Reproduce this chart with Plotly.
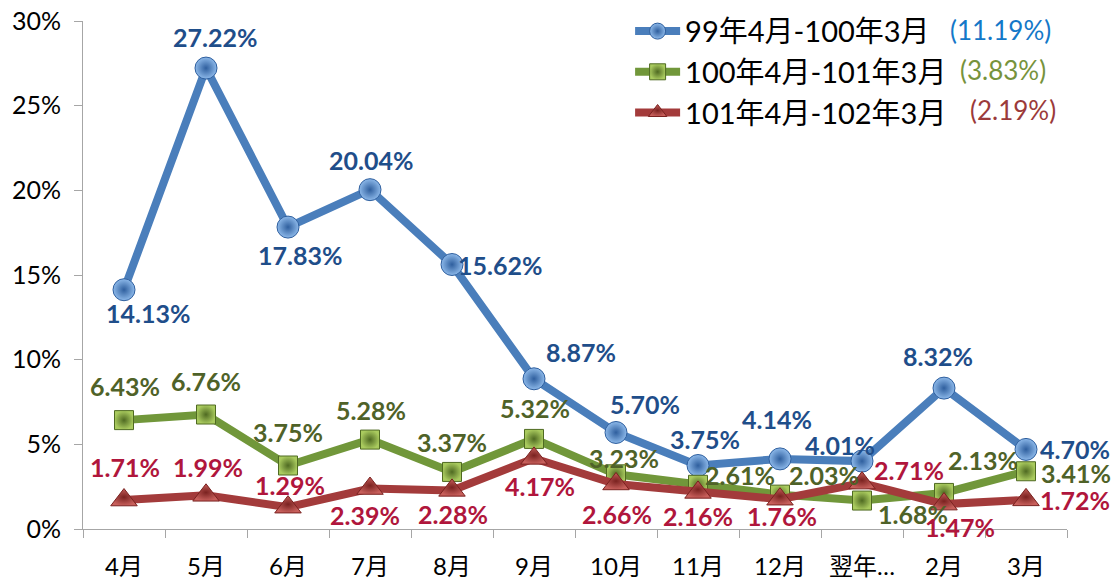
import plotly.graph_objects as go

categories = ["4月", "5月", "6月", "7月", "8月", "9月", "10月", "11月", "12月", "翌年…", "2月", "3月"]
series_names = ["99年4月-100年3月", "100年4月-101年3月", "101年4月-102年3月"]
series_avg = ["(11.19%)", "(3.83%)", "(2.19%)"]
s1 = [14.13, 27.22, 17.83, 20.04, 15.62, 8.87, 5.70, 3.75, 4.14, 4.01, 8.32, 4.70]
s2 = [6.43, 6.76, 3.75, 5.28, 3.37, 5.32, 3.23, 2.61, 2.03, 1.68, 2.13, 3.41]
s3 = [1.71, 1.99, 1.29, 2.39, 2.28, 4.17, 2.66, 2.16, 1.76, 2.71, 1.47, 1.72]

# label pixel offsets (dx right, dy down) relative to each point
off1 = [(24, 23), (9, -31), (12, 28), (1, -30), (48, 0), (47, -27), (29, -28), (7, -27), (-3, -40), (-22, -16), (-6, -32), (49, 0)]
off2 = [(1, -34), (0, -34), (0, -34), (1, -30), (0, -30), (1, -31), (8, -16), (42, -10), (44, -20), (51, 13), (39, -33), (50, 2)]
off3 = [(1, -33), (2, -28), (2, -22), (-5, 26), (1, 24), (6, 28), (1, 30), (0, 24), (2, 17), (47, -13), (16, 23), (49, 0)]

FONT = "Lato, 'Noto Sans CJK TC', sans-serif"
styles = [
    dict(line="#4A7EBB", mk="#8DB9EA", edge="#2F5F9E", sym="circle", size=22, lab="#1F4E8A", avg="#1478C8"),
    dict(line="#71973A", mk="#A9CA5E", edge="#4F6A22", sym="square", size=19, lab="#4F6228", avg="#77933C"),
    dict(line="#A33B3B", mk="#C8605C", edge="#7A2220", sym="triangle-up", size=23, lab="#B0163C", avg="#9B3A3A"),
]

fig = go.Figure()
for name, vals, st in zip(series_names, [s1, s2, s3], styles):
    fig.add_trace(go.Scatter(
        x=categories, y=vals, name=name, mode="lines+markers",
        line=dict(color=st["line"], width=8),
        marker=dict(symbol=st["sym"], size=st["size"], color=st["mk"],
                    gradient=dict(type="radial", color=st["edge"]),
                    line=dict(color=st["edge"], width=1)),
        hoverinfo="skip",
    ))

for vals, offs, st in zip([s1, s2, s3], [off1, off2, off3], styles):
    for c, v, (dx, dy) in zip(categories, vals, offs):
        fig.add_annotation(x=c, y=v, text=f"{v:.2f}%", showarrow=False,
                           xshift=dx, yshift=-dy,
                           font=dict(family=FONT, size=25, color=st["lab"], weight="bold"))

avg_pos = [(1000, 30), (1003, 70), (1013, 110)]
for txt, st, (px, py) in zip(series_avg, styles, avg_pos):
    fig.add_annotation(xref="paper", yref="paper",
                       x=(px - 83) / 984, y=1 - (py - 21) / 508,
                       xanchor="center", yanchor="middle",
                       text=txt, showarrow=False,
                       font=dict(family=FONT, size=26, color=st["avg"]))

fig.update_layout(
    width=1120, height=583,
    margin=dict(l=75, r=61, t=13, b=62, autoexpand=False),
    paper_bgcolor="white", plot_bgcolor="white",
    font=dict(family=FONT, color="#000000"),
    showlegend=True,
    legend=dict(x=0.556, y=1.030, xanchor="left", yanchor="top",
                font=dict(family=FONT, size=29, color="#000000"),
                bgcolor="rgba(0,0,0,0)", itemwidth=45, tracegroupgap=0),
)
fig.update_xaxes(
    type="category", showgrid=False, showline=True, linecolor="#A6A6A6", linewidth=1,
    ticks="outside", tickson="boundaries", ticklen=8, tickcolor="#A6A6A6",
    tickfont=dict(family=FONT, size=24, color="#000000"), range=[-0.5, 11.5],
    ticklabelstandoff=16, ticklabeloverflow="allow",
)
fig.update_yaxes(
    range=[0, 30], dtick=5, ticksuffix="%", showgrid=False, zeroline=False,
    showline=True, linecolor="#A6A6A6", linewidth=1,
    ticks="outside", ticklen=8, tickcolor="#A6A6A6",
    tickfont=dict(family=FONT, size=25, color="#000000"), ticklabelstandoff=8,
    ticklabeloverflow="allow",
)

fig.write_html("out.html")
